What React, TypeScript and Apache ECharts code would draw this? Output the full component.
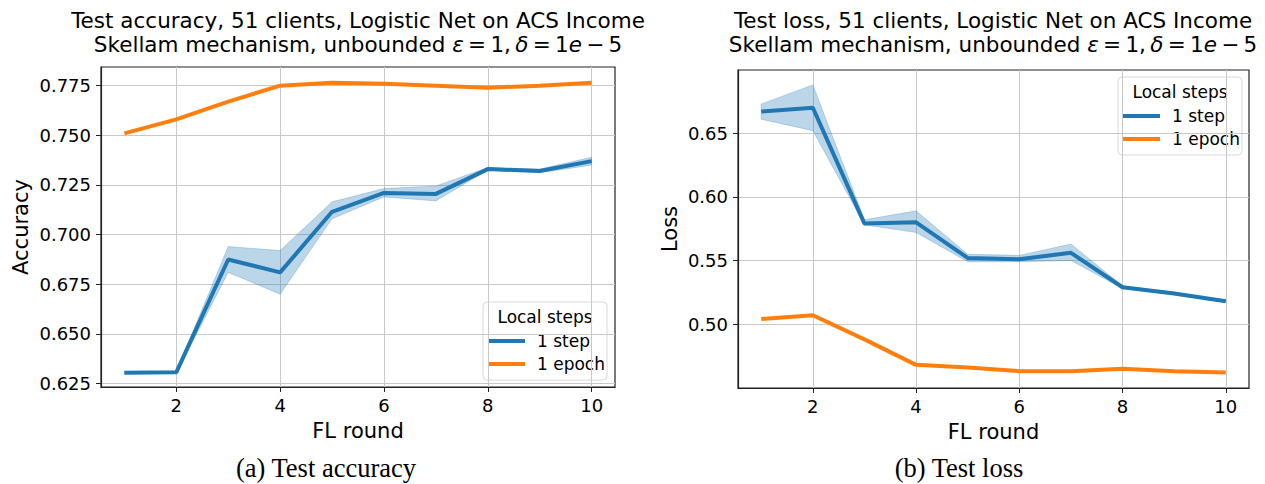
import React, { useEffect, useRef } from "react";
import * as echarts from "echarts";

const rounds = [1, 2, 3, 4, 5, 6, 7, 8, 9, 10];

const accStep = [0.6305, 0.6307, 0.6875, 0.681, 0.7115, 0.721, 0.7205, 0.733, 0.732, 0.737];
const accStepLo = [0.6300, 0.6302, 0.681, 0.670, 0.708, 0.719, 0.717, 0.7325, 0.7312, 0.735];
const accStepHi = [0.6310, 0.6312, 0.694, 0.692, 0.7165, 0.7232, 0.7245, 0.7338, 0.733, 0.739];
const accEpoch = [0.751, 0.758, 0.767, 0.775, 0.7765, 0.776, 0.775, 0.774, 0.775, 0.7765];

const lossStep = [0.667, 0.670, 0.579, 0.580, 0.552, 0.551, 0.556, 0.529, 0.524, 0.518];
const lossStepLo = [0.661, 0.652, 0.578, 0.572, 0.549, 0.549, 0.550, 0.528, 0.523, 0.517];
const lossStepHi = [0.673, 0.688, 0.582, 0.589, 0.555, 0.554, 0.563, 0.530, 0.525, 0.519];
const lossEpoch = [0.504, 0.507, 0.488, 0.468, 0.466, 0.463, 0.463, 0.465, 0.463, 0.462];

const xTicks = [2, 4, 6, 8, 10];
const accTicks = [0.625, 0.65, 0.675, 0.7, 0.725, 0.75, 0.775];
const lossTicks = [0.5, 0.55, 0.6, 0.65];

const BLUE = "#1f77b4";
const ORANGE = "#ff7f0e";
const BAND = "rgba(31,119,180,0.3)";
const FONT = "DejaVu Sans";
const TS = "\u2009";

const pairs = (ys: number[]) => rounds.map((x, i) => [x, ys[i]]);

function xAxisFor(gridIndex: number) {
  return {
    type: "value",
    gridIndex,
    min: 0.55,
    max: 10.45,
    name: "FL round",
    nameLocation: "middle",
    nameGap: 33,
    nameTextStyle: { fontFamily: FONT, fontSize: 21, color: "#000" },
    axisLine: { show: true, onZero: false, lineStyle: { color: "#222", width: 1.2 } },
    axisTick: { show: true, length: 5, customValues: xTicks, lineStyle: { color: "#222" } },
    axisLabel: { customValues: xTicks, fontFamily: FONT, fontSize: 18, color: "#000", margin: 9 },
    splitLine: { show: true, lineStyle: { color: "#c8c8c8", width: 1 } },
  };
}

function yAxisFor(gridIndex: number, min: number, max: number, ticks: number[], dec: number, name: string, gap: number) {
  return {
    type: "value",
    gridIndex,
    min,
    max,
    name,
    nameLocation: "middle",
    nameGap: gap,
    nameTextStyle: { fontFamily: FONT, fontSize: 21, color: "#000" },
    axisLine: { show: true, onZero: false, lineStyle: { color: "#222", width: 1.2 } },
    axisTick: { show: true, length: 5, customValues: ticks, lineStyle: { color: "#222" } },
    axisLabel: {
      customValues: ticks,
      fontFamily: FONT,
      fontSize: 18,
      color: "#000",
      margin: 10,
      formatter: (v: number) => v.toFixed(dec),
    },
    splitLine: { show: true, lineStyle: { color: "#c8c8c8", width: 1 } },
  };
}

function bandSeries(idx: number, lo: number[], hi: number[]) {
  return {
    type: "custom",
    xAxisIndex: idx,
    yAxisIndex: idx,
    silent: true,
    clip: true,
    z: 1,
    data: rounds.map((x, i) => [x, lo[i], hi[i]]),
    renderItem: (params: any, api: any) => {
      if (params.dataIndex !== 0) return null;
      const top = rounds.map((x, i) => api.coord([x, hi[i]]));
      const bottom = rounds.map((x, i) => api.coord([x, lo[i]])).reverse();
      return {
        type: "polygon",
        shape: { points: top.concat(bottom) },
        style: { fill: BAND, stroke: BAND, lineWidth: 0.8 },
      };
    },
  };
}

function lineSeries(idx: number, name: string, ys: number[], color: string) {
  return {
    type: "line",
    name,
    xAxisIndex: idx,
    yAxisIndex: idx,
    data: pairs(ys),
    symbol: "none",
    lineStyle: { color, width: 4 },
    itemStyle: { color },
    z: 3,
  };
}

function legendGraphic(x: number, y: number) {
  const w = 124;
  const h = 78;
  return {
    type: "group",
    x,
    y,
    z: 100,
    children: [
      {
        type: "rect",
        shape: { x: 0, y: 0, width: w, height: h, r: 4 },
        style: { fill: "rgba(255,255,255,0.8)", stroke: "#d8d8d8", lineWidth: 1 },
      },
      {
        type: "text",
        x: w / 2,
        y: 15,
        style: { text: "Local steps", font: `17px "${FONT}"`, fill: "#000", align: "center", verticalAlign: "middle" },
      },
      { type: "line", shape: { x1: 5, y1: 39, x2: 42, y2: 39 }, style: { stroke: BLUE, lineWidth: 4 } },
      {
        type: "text",
        x: 54,
        y: 39,
        style: { text: "1 step", font: `17px "${FONT}"`, fill: "#000", align: "left", verticalAlign: "middle" },
      },
      { type: "line", shape: { x1: 5, y1: 62, x2: 42, y2: 62 }, style: { stroke: ORANGE, lineWidth: 4 } },
      {
        type: "text",
        x: 54,
        y: 62,
        style: { text: "1 epoch", font: `17px "${FONT}"`, fill: "#000", align: "left", verticalAlign: "middle" },
      },
    ],
  };
}

function titleGraphic(cx: number, line1: string) {
  return [
    {
      type: "text",
      x: cx,
      y: 20,
      style: { text: line1, font: `21.5px "${FONT}"`, fill: "#000", align: "center", verticalAlign: "middle" },
    },
    {
      type: "text",
      x: cx,
      y: 44,
      style: {
        text:
          "{n|Skellam mechanism, unbounded }{i|ε}{n|" + TS + "=" + TS + "1," + TS + "}{i|δ}{n|" + TS + "=" + TS + "1}{i|e}{n|" + TS + "−" + TS + "5}",
        align: "center",
        verticalAlign: "middle",
        fill: "#000",
        rich: {
          n: { fontFamily: FONT, fontSize: 21.5, fill: "#000" },
          i: { fontFamily: FONT, fontSize: 21.5, fontStyle: "italic", fill: "#000" },
        },
      },
    },
  ];
}

export default function App() {
  const ref = useRef<HTMLDivElement>(null);

  useEffect(() => {
    if (!ref.current) return;
    const chart = echarts.init(ref.current, null, { renderer: "svg" });
    const option = {
      animation: false,
      backgroundColor: "#fff",
      grid: [
        { left: 101, top: 67, width: 514, height: 320, show: true, borderColor: "#222", borderWidth: 1.2, backgroundColor: "transparent" },
        { left: 738, top: 70, width: 511, height: 318, show: true, borderColor: "#222", borderWidth: 1.2, backgroundColor: "transparent" },
      ],
      xAxis: [xAxisFor(0), xAxisFor(1)],
      yAxis: [
        yAxisFor(0, 0.6233, 0.7844, accTicks, 3, "Accuracy", 70),
        yAxisFor(1, 0.4498, 0.6997, lossTicks, 2, "Loss", 58),
      ],
      series: [
        bandSeries(0, accStepLo, accStepHi),
        lineSeries(0, "1 step", accStep, BLUE),
        lineSeries(0, "1 epoch", accEpoch, ORANGE),
        bandSeries(1, lossStepLo, lossStepHi),
        lineSeries(1, "1 step", lossStep, BLUE),
        lineSeries(1, "1 epoch", lossEpoch, ORANGE),
      ],
      graphic: [
        ...titleGraphic(358, "Test accuracy, 51 clients, Logistic Net on ACS Income"),
        ...titleGraphic(993, "Test loss, 51 clients, Logistic Net on ACS Income"),
        legendGraphic(483, 302),
        legendGraphic(1118, 77),
        {
          type: "text",
          x: 326,
          y: 468,
          style: { text: "(a) Test accuracy", font: `26.5px "Liberation Serif"`, fill: "#000", align: "center", verticalAlign: "middle" },
        },
        {
          type: "text",
          x: 959,
          y: 468,
          style: { text: "(b) Test loss", font: `26.5px "Liberation Serif"`, fill: "#000", align: "center", verticalAlign: "middle" },
        },
      ],
    };
    chart.setOption(option as any);
    return () => chart.dispose();
  }, []);

  return (
    <div
      ref={ref}
      style={{ position: "fixed", left: 0, top: 0, width: 1265, height: 484, background: "#fff" }}
    />
  );
}
